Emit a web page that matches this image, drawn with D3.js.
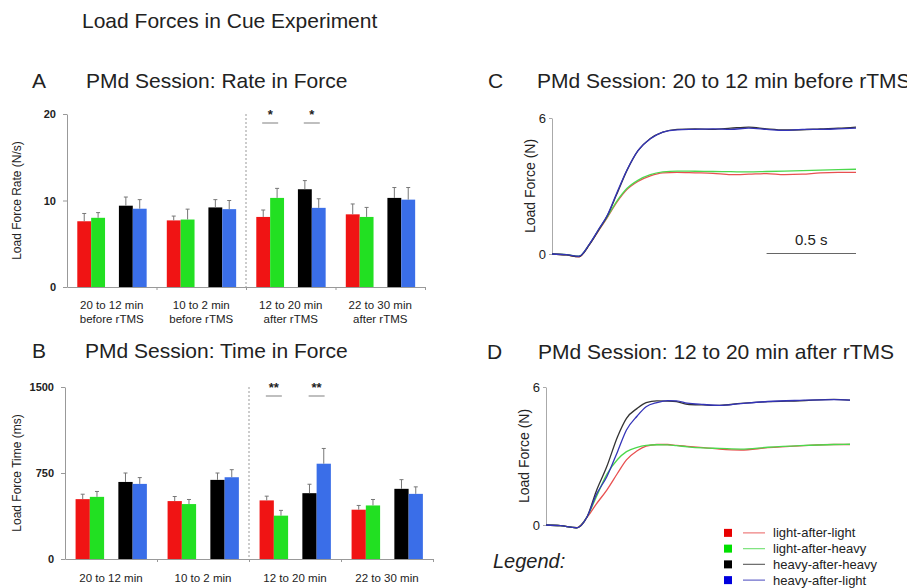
<!DOCTYPE html>
<html>
<head>
<meta charset="utf-8">
<script src="https://cdn.jsdelivr.net/npm/d3@7"></script>
<style>
body { margin: 0; background: #fff; }
text { font-family: "Liberation Sans", Arial, sans-serif; fill: #222; }
</style>
</head>
<body>
<script>
var periodsTop = ["20 to 12 min", "10 to 2 min", "12 to 20 min", "22 to 30 min"];
var periodsBottom = ["before rTMS", "before rTMS", "after rTMS", "after rTMS"];
var conditions = ["light-after-light", "light-after-heavy", "heavy-after-heavy", "heavy-after-light"];
var barColors = ["#f01414", "#22e022", "#000000", "#3a6ee8"];
var lineColors = ["#e85050", "#4cd84c", "#333333", "#3434b8"];
var keyColors = ["#e80000", "#00e000", "#000000", "#0000dd"];

// rate in force (N/s): mean and SE, one row per period, columns = conditions
var rateMean = [[7.6, 8.0, 9.4, 9.05], [7.7, 7.8, 9.2, 9.0], [8.1, 10.3, 11.3, 9.15], [8.4, 8.1, 10.3, 10.1]];
var rateErr = [[0.9, 0.6, 1.0, 1.05], [0.5, 1.2, 0.9, 1.0], [0.8, 1.1, 1.0, 1.05], [1.2, 1.1, 1.2, 1.4]];
var rateTicks = [0, 10, 20];
// period, condition a, condition b, mark
var rateSig = [[2, 0, 1, "*"], [2, 2, 3, "*"]];

// time in force (ms)
var timeMean = [[522, 542, 672, 655], [505, 479, 690, 713], [511, 378, 574, 831], [430, 467, 612, 568]];
var timeErr = [[43, 47, 78, 55], [40, 40, 60, 66], [37, 46, 78, 133], [37, 52, 80, 61]];
var timeTicks = [0, 750, 1500];
var timeSig = [[2, 0, 1, "**"], [2, 2, 3, "**"]];

// mean load force traces (N) against time (s)
var tC = [0, 0.08, 0.15, 0.21, 0.26, 0.31, 0.36, 0.42, 0.48, 0.55, 0.62, 0.70, 0.80, 0.90, 1.00, 1.10, 1.20, 1.30, 1.40, 1.50, 1.60, 1.70];
var forceC = [
	[0, -0.04, -0.13, 0.42, 1.02, 1.62, 2.25, 2.85, 3.2, 3.45, 3.58, 3.6, 3.58, 3.56, 3.5, 3.52, 3.55, 3.5, 3.52, 3.58, 3.6, 3.6],
	[0, -0.03, -0.1, 0.44, 1.05, 1.65, 2.3, 2.9, 3.25, 3.5, 3.62, 3.66, 3.65, 3.64, 3.63, 3.62, 3.64, 3.66, 3.68, 3.7, 3.72, 3.74],
	[0, -0.04, -0.12, 0.42, 1.05, 1.7, 2.6, 3.7, 4.55, 5.1, 5.38, 5.5, 5.52, 5.5, 5.55, 5.6, 5.52, 5.47, 5.48, 5.52, 5.55, 5.6],
	[0, -0.03, -0.1, 0.45, 1.08, 1.72, 2.65, 3.72, 4.55, 5.08, 5.38, 5.48, 5.5, 5.52, 5.5, 5.55, 5.5, 5.45, 5.5, 5.5, 5.52, 5.55]
];
var tD = [0, 0.08, 0.17, 0.23, 0.28, 0.34, 0.40, 0.45, 0.51, 0.56, 0.62, 0.68, 0.73, 0.79, 0.88, 0.97, 1.09, 1.24, 1.42, 1.61, 1.70];
var forceD = [
	[0, -0.03, -0.12, 0.34, 0.9, 1.52, 2.25, 2.83, 3.23, 3.43, 3.5, 3.5, 3.46, 3.42, 3.36, 3.3, 3.26, 3.36, 3.44, 3.5, 3.5],
	[0, -0.03, -0.12, 0.36, 1.2, 2.2, 2.85, 3.19, 3.38, 3.46, 3.49, 3.48, 3.45, 3.4, 3.35, 3.33, 3.3, 3.38, 3.45, 3.5, 3.51],
	[0, -0.03, -0.12, 0.36, 1.45, 2.54, 3.84, 4.64, 5.07, 5.32, 5.4, 5.39, 5.36, 5.25, 5.22, 5.2, 5.29, 5.36, 5.4, 5.46, 5.43],
	[0, -0.03, -0.12, 0.36, 1.3, 2.1, 3.19, 4.13, 4.74, 5.14, 5.32, 5.41, 5.4, 5.3, 5.24, 5.2, 5.28, 5.37, 5.42, 5.45, 5.43]
];
var forceTicks = [0, 6];
var scaleBarSec = 0.5;

var w = 907, h = 588;
var svg = d3.select("body").append("svg")
	.attr("width", w)
	.attr("height", h);

svg.append("text")
	.attr("x", 82).attr("y", 28)
	.style("font-size", "21px")
	.text("Load Forces in Cue Experiment");

function panelTitle(letter, title, lx, tx, by) {
	svg.append("text").attr("x", lx).attr("y", by).style("font-size", "21px").text(letter);
	svg.append("text").attr("x", tx).attr("y", by).style("font-size", "21px").text(title);
}

//bar chart panel (A and B)
function barPanel(cfg) {
	var g = svg.append("g");
	var x = d3.scaleBand().domain(d3.range(periodsTop.length)).range([cfg.x0, cfg.x1]);
	var bw = x.bandwidth();
	var xi = d3.scaleBand().domain([0, 1, "gap", 2, 3]).range([bw * 0.115, bw * 0.89]);
	var top = cfg.ticks[cfg.ticks.length - 1];
	var y = d3.scaleLinear().domain([0, top]).range([cfg.y0, cfg.y1]);

	// before / after separator
	g.append("line")
		.attr("x1", x(2)).attr("x2", x(2))
		.attr("y1", y(top)).attr("y2", y(0))
		.attr("stroke", "#999")
		.attr("stroke-dasharray", "2,2");

	cfg.mean.forEach(function (row, p) {
		var bars = g.selectAll(null).data(row).enter();
		bars.append("rect")
			.attr("x", (d, i) => x(p) + xi(i))
			.attr("y", d => y(d))
			.attr("width", xi.bandwidth())
			.attr("height", d => y(0) - y(d))
			.attr("fill", (d, i) => barColors[i]);
		// upper error bars only
		bars.append("line")
			.attr("x1", (d, i) => x(p) + xi(i) + xi.bandwidth() / 2)
			.attr("x2", (d, i) => x(p) + xi(i) + xi.bandwidth() / 2)
			.attr("y1", d => y(d))
			.attr("y2", (d, i) => y(d + cfg.err[p][i]))
			.attr("stroke", "#777");
		bars.append("line")
			.attr("x1", (d, i) => x(p) + xi(i) + xi.bandwidth() / 2 - 2)
			.attr("x2", (d, i) => x(p) + xi(i) + xi.bandwidth() / 2 + 2)
			.attr("y1", (d, i) => y(d + cfg.err[p][i]))
			.attr("y2", (d, i) => y(d + cfg.err[p][i]))
			.attr("stroke", "#777");
	});

	var yAxis = g.append("g")
		.attr("transform", "translate(" + cfg.x0 + ",0)")
		.call(d3.axisLeft(y).tickValues(cfg.ticks).tickFormat(d3.format("d"))
			.tickSize(4).tickSizeOuter(0).tickPadding(7));
	yAxis.selectAll("path, line").attr("stroke", "#999");
	yAxis.selectAll("text").style("font-size", "11px").style("font-weight", "bold")
		.style("font-family", "'Liberation Sans', Arial, sans-serif").attr("fill", "#333");

	var xb = d3.scaleLinear().domain([0, periodsTop.length]).range([cfg.x0, cfg.x1]);
	var xAxis = g.append("g")
		.attr("transform", "translate(0," + y(0) + ")")
		.call(d3.axisBottom(xb).tickValues(d3.range(1, periodsTop.length + 1)).tickSize(3).tickSizeOuter(0).tickFormat(""));
	xAxis.selectAll("path, line").attr("stroke", "#999");

	g.selectAll(null).data(periodsTop).enter().append("text")
		.attr("x", (d, i) => x(i) + bw / 2)
		.attr("y", cfg.labelY)
		.attr("text-anchor", "middle")
		.style("font-size", "11.5px")
		.text(d => d);
	g.selectAll(null).data(periodsBottom).enter().append("text")
		.attr("x", (d, i) => x(i) + bw / 2)
		.attr("y", cfg.labelY + 14)
		.attr("text-anchor", "middle")
		.style("font-size", "11.5px")
		.text(d => d);

	g.append("text")
		.attr("transform", "translate(17," + (y(0) + y(top)) / 2 + ") rotate(-90)")
		.attr("text-anchor", "middle")
		.attr("dy", "0.35em")
		.style("font-size", "12px")
		.text(cfg.yLabel);

	// significance marks
	cfg.sig.forEach(function (s) {
		var cx = x(s[0]) + (xi(s[1]) + xi(s[2]) + xi.bandwidth()) / 2;
		var ly = y(top) + 9;
		g.append("line")
			.attr("x1", cx - 8).attr("x2", cx + 8)
			.attr("y1", ly).attr("y2", ly)
			.attr("stroke", "#aaa").attr("stroke-width", 1.5);
		g.append("text")
			.attr("x", cx).attr("y", ly - 4)
			.attr("text-anchor", "middle")
			.style("font-size", "13px").style("font-weight", "bold")
			.text(s[3]);
	});
}

//force trace panel (C and D)
function forcePanel(cfg) {
	var g = svg.append("g");
	var x = d3.scaleLinear().domain([0, 1.7]).range([cfg.x0, cfg.x1]);
	var y = d3.scaleLinear().domain([0, 6]).range([cfg.y0, cfg.y1]);

	var yAxis = g.append("g")
		.attr("transform", "translate(" + cfg.x0 + ",0)")
		.call(d3.axisLeft(y).tickValues(forceTicks).tickFormat(d3.format("d"))
			.tickSize(3).tickSizeOuter(0).tickPadding(3));
	yAxis.selectAll("path, line").attr("stroke", "#aaa");
	yAxis.selectAll("text").style("font-size", "13px")
		.style("font-family", "'Liberation Sans', Arial, sans-serif").attr("fill", "#333");

	g.append("text")
		.attr("transform", "translate(" + (cfg.x0 - 22) + "," + (y(0) + y(6)) / 2 + ") rotate(-90)")
		.attr("text-anchor", "middle")
		.attr("dy", "0.35em")
		.style("font-size", "14px")
		.text("Load Force (N)");

	var line = d3.line()
		.curve(d3.curveMonotoneX)
		.x((d, i) => x(cfg.t[i]))
		.y(d => y(d));

	g.selectAll(null).data(cfg.force).enter().append("path")
		.attr("d", line)
		.attr("fill", "none")
		.attr("stroke", (d, i) => lineColors[i])
		.attr("stroke-width", 1.3);

	if (cfg.scaleBar) {
		var x2 = 1.7, x1 = x2 - scaleBarSec;
		g.append("line")
			.attr("x1", x(x1)).attr("x2", x(x2))
			.attr("y1", y(0) - 0.5).attr("y2", y(0) - 0.5)
			.attr("stroke", "#666");
		g.append("text")
			.attr("x", (x(x1) + x(x2)) / 2).attr("y", y(0) - 9)
			.attr("text-anchor", "middle")
			.style("font-size", "15px")
			.text(scaleBarSec + " s");
	}
}

panelTitle("A", "PMd Session: Rate in Force", 32, 86, 88);
barPanel({ x0: 67, x1: 425, y0: 287, y1: 114, ticks: rateTicks, mean: rateMean, err: rateErr,
	sig: rateSig, labelY: 309, yLabel: "Load Force Rate (N/s)" });

panelTitle("B", "PMd Session: Time in Force", 32, 85, 358);
barPanel({ x0: 65, x1: 433, y0: 559, y1: 387, ticks: timeTicks, mean: timeMean, err: timeErr,
	sig: timeSig, labelY: 582, yLabel: "Load Force Time (ms)" });

panelTitle("C", "PMd Session: 20 to 12 min before rTMS", 488, 537, 88);
forcePanel({ x0: 552, x1: 856, y0: 254, y1: 118, t: tC, force: forceC, scaleBar: true });

panelTitle("D", "PMd Session: 12 to 20 min after rTMS", 487, 538, 359);
forcePanel({ x0: 546, x1: 850, y0: 525, y1: 387, t: tD, force: forceD, scaleBar: false });

// legend
var legendY = d3.scaleBand().domain(conditions).range([525, 588]);
var legend = svg.append("g");
var rows = legend.selectAll(null).data(conditions).enter().append("g")
	.attr("transform", d => "translate(0," + (legendY(d) + legendY.bandwidth() / 2) + ")");
rows.append("rect")
	.attr("x", 724).attr("y", -4)
	.attr("width", 8).attr("height", 8)
	.attr("fill", (d, i) => keyColors[i]);
rows.append("line")
	.attr("x1", 743).attr("x2", 765)
	.attr("stroke", (d, i) => d3.interpolateRgb(lineColors[i], "#fff")(0.3))
	.attr("stroke-width", 1.3);
rows.append("text")
	.attr("x", 773).attr("dy", "0.35em")
	.style("font-size", "13px")
	.text(d => d);

svg.append("text")
	.attr("x", 493).attr("y", 568)
	.style("font-size", "20px")
	.style("font-style", "italic")
	.text("Legend:");
</script>
</body>
</html>
